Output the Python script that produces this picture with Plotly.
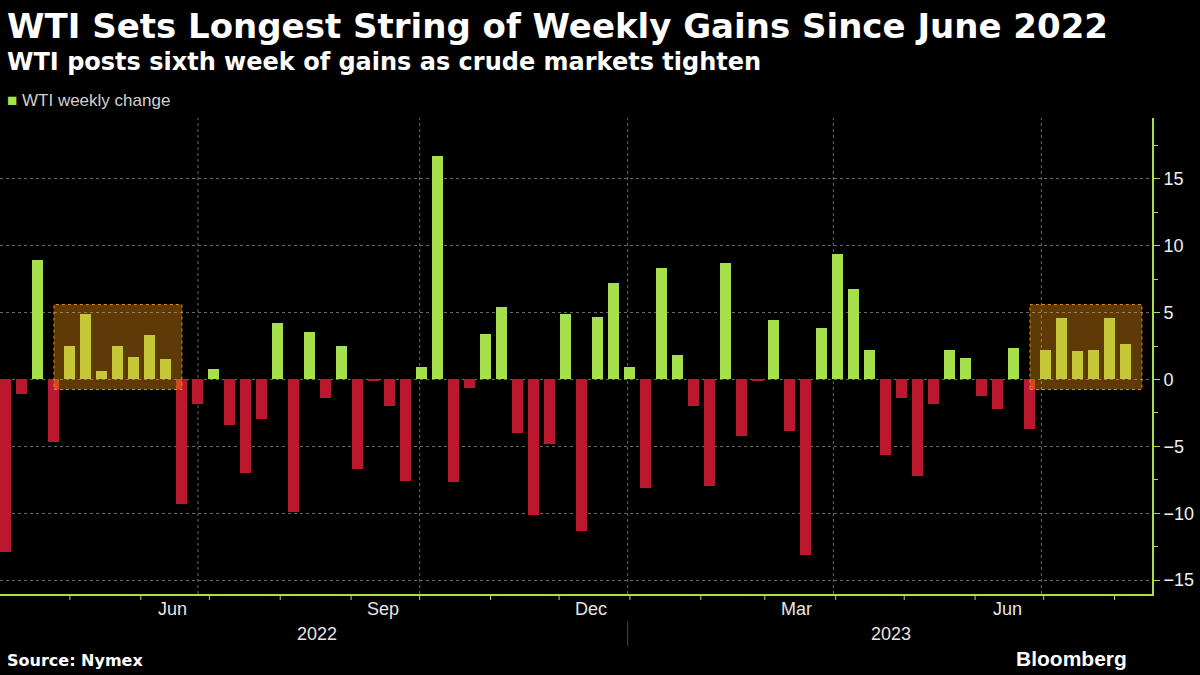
import plotly.graph_objects as go
import pandas as pd

first_week = "2022-04-01"
values = [-12.9, -1.05, 8.9, -4.64, 2.54, 4.86, 0.67, 2.47, 1.65, 3.29, 1.5,
          -9.28, -1.8, 0.75, -3.37, -6.96, -2.99, 4.19, -9.88, 3.52, -1.42, 2.54,
          -6.73, -0.07, -1.95, -7.56, 0.97, 16.7, -7.7, -0.67, 3.37, 5.39, -3.97,
          -10.1, -4.79, 4.86, -11.3, 4.64, 7.18, 0.9, -8.15, 8.3, 1.8, -2.02, -8.0,
          8.68, -4.26, -0.07, 4.41, -3.82, -13.1, 3.82, 9.35, 6.73, 2.24, -5.66,
          -1.42, -7.18, -1.87, 2.17, 1.57, -1.27, -2.24, 2.32, -3.67, 2.17, 4.56,
          2.1, 2.17, 4.56, 2.62]
dates = pd.date_range(first_week, periods=len(values), freq="7D")
highlights = [(3, 11), (64, 71)]  # week index spans
y_ticks = [-15, -10, -5, 0, 5, 10, 15]
grid_dates = ["2022-06-24", "2022-09-29", "2022-12-29", "2023-03-29", "2023-06-28"]
month_labels = [("2022-06-13", "Jun"), ("2022-09-13", "Sep"), ("2022-12-13", "Dec"),
                ("2023-03-13", "Mar"), ("2023-06-13", "Jun")]
year_labels = [("2022-08-15", "2022"), ("2023-04-23", "2023")]

GREEN = "#a6e04f"
RED = "#bc1830"
colors = [GREEN if v >= 0 else RED for v in values]

PT, PB, H = 118, 81, 675
PH = H - PT - PB
def py(pix):
    return (H - PB - pix) / PH
XL = 5 / 1152

fig = go.Figure()
fig.add_trace(go.Bar(x=dates, y=values, marker=dict(color=colors, line_width=0),
                     width=7 * 86400000 * 0.69, name="WTI weekly change",
                     showlegend=False))

x0 = pd.Timestamp(first_week) - pd.Timedelta(days=2.6)
x1 = pd.Timestamp(first_week) + pd.Timedelta(days=501.4)

def d(i):
    return pd.Timestamp(first_week) + pd.Timedelta(days=7 * i)

for a, b in highlights:
    fig.add_shape(type="rect", xref="x", yref="y", x0=d(a), x1=d(b),
                  y0=-0.75, y1=5.6, fillcolor="rgba(255,160,15,0.37)",
                  line=dict(color="#f08c14", width=1, dash="dot"), layer="above")

for gd in grid_dates:
    fig.add_shape(type="line", xref="x", yref="paper", x0=gd, x1=gd, y0=0, y1=1,
                  line=dict(color="#6a6a6a", width=1, dash="dot"), layer="below")

month_starts = pd.date_range("2022-05-01", "2023-08-01", freq="MS") - pd.Timedelta(days=2)
for m in month_starts:
    fig.add_shape(type="line", xref="x", yref="paper", x0=m, x1=m, y0=0, y1=py(600),
                  line=dict(color=GREEN, width=1))

for dt, t in month_labels:
    fig.add_annotation(x=dt, y=py(597), xref="x", yref="paper", text=t, showarrow=False,
                       yanchor="top", font=dict(size=18, color="#e6e6e6"))
for dt, t in year_labels:
    fig.add_annotation(x=dt, y=py(622), xref="x", yref="paper", text=t, showarrow=False,
                       yanchor="top", font=dict(size=18, color="#e6e6e6"))
fig.add_shape(type="line", xref="x", yref="paper", x0="2022-12-29", x1="2022-12-29",
              y0=py(622), y1=py(646), line=dict(color="#3a5a1a", width=1))

fig.update_layout(
    width=1200, height=675, paper_bgcolor="black", plot_bgcolor="black",
    margin=dict(l=0, r=48, t=PT, b=PB, autoexpand=False),
    font=dict(family="Liberation Sans", color="#e6e6e6"),
    bargap=0,
    xaxis=dict(type="date", range=[x0, x1], showgrid=False, showticklabels=False,
               showline=True, linecolor=GREEN, linewidth=2, zeroline=False, ticks=""),
    yaxis=dict(side="right", range=[-16.04, 19.55], tickvals=y_ticks,
               showgrid=True, gridcolor="#6a6a6a", griddash="dot", gridwidth=1,
               zeroline=False, showline=True, linecolor=GREEN, linewidth=2,
               ticks="outside", tickcolor=GREEN, ticklen=6,
               tickfont=dict(size=18, color="#f0f0f0"),
               minor=dict(dtick=2.5, ticks="outside", ticklen=4, tickcolor=GREEN)),
)

fig.add_annotation(text="<b>WTI Sets Longest String of Weekly Gains Since June 2022</b>",
                   x=XL, y=py(4), xref="paper", yref="paper", xanchor="left", yanchor="top",
                   showarrow=False, font=dict(family="DejaVu Sans", size=34, color="white"))
fig.add_annotation(text="<b>WTI posts sixth week of gains as crude markets tighten</b>",
                   x=XL, y=py(46), xref="paper", yref="paper", xanchor="left", yanchor="top",
                   showarrow=False, font=dict(family="DejaVu Sans", size=24, color="white"))
fig.add_annotation(text="<span style='color:#a6e04f'>■</span> WTI weekly change",
                   x=XL, y=py(89), xref="paper", yref="paper", xanchor="left", yanchor="top",
                   showarrow=False, font=dict(size=17, color="#d0d0d0"))
fig.add_annotation(text="<b>Source: Nymex</b>", x=XL, y=py(672), xref="paper", yref="paper",
                   xanchor="left", yanchor="bottom", showarrow=False,
                   font=dict(family="DejaVu Sans", size=16, color="white"))
fig.add_annotation(text="<b>Bloomberg</b>", x=0.98, y=py(672), xref="paper", yref="paper",
                   xanchor="right", yanchor="bottom", showarrow=False,
                   font=dict(size=21, color="white"))

fig.write_html("out.html", config={"displayModeBar": False},
               post_script="document.body.style.margin='0';document.body.style.background='black';")
